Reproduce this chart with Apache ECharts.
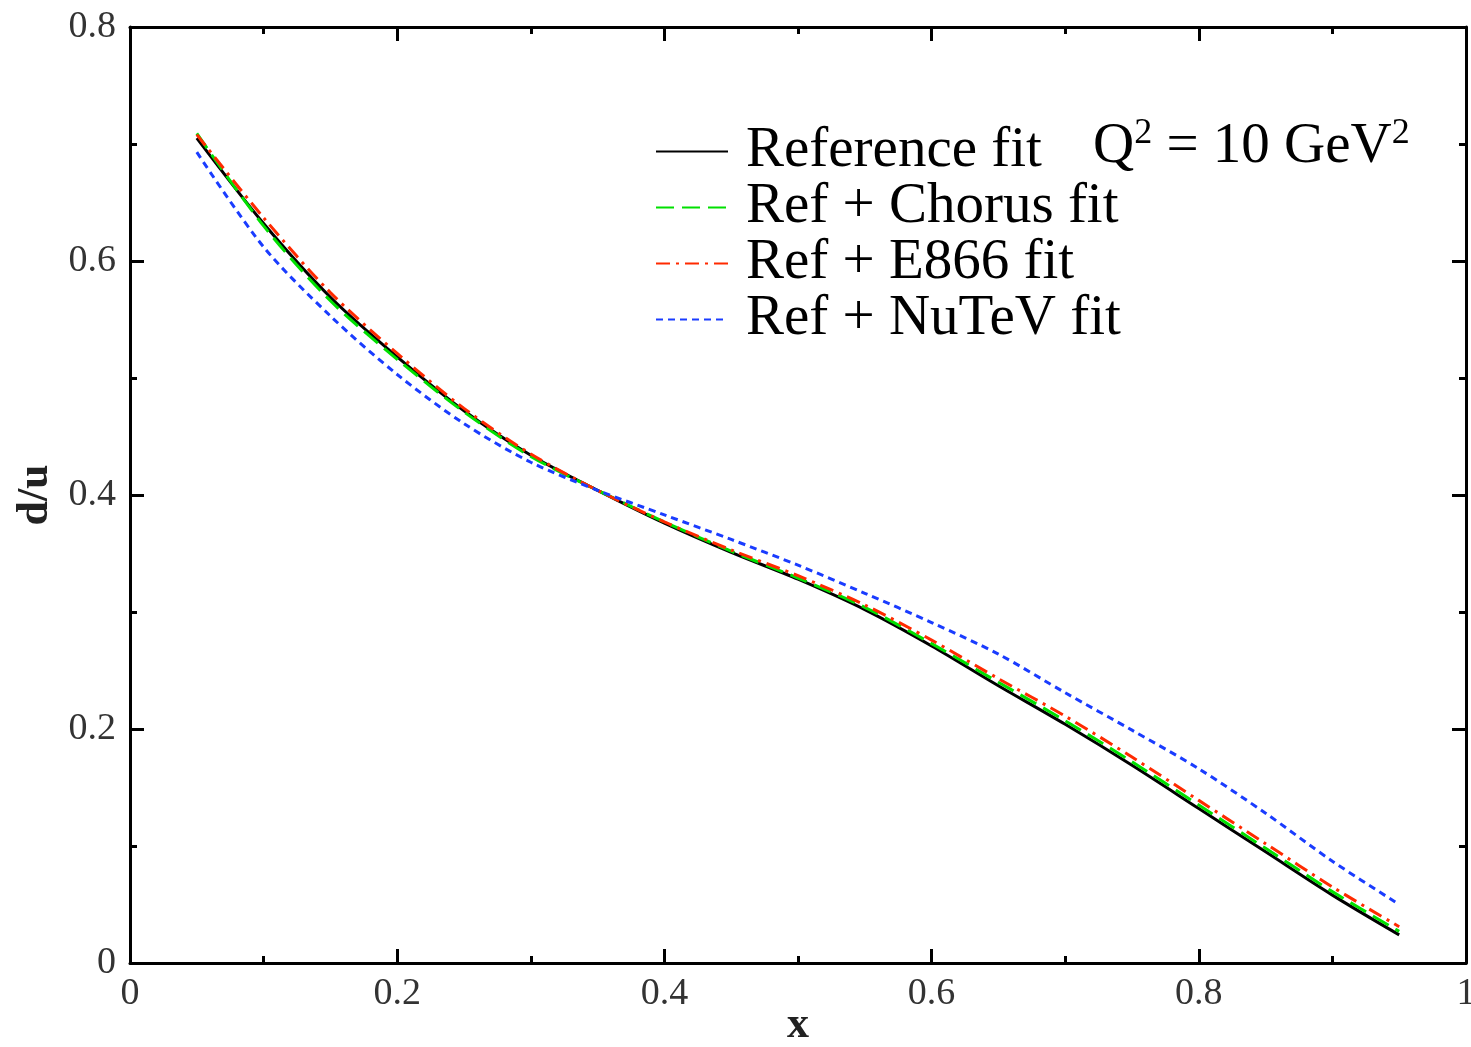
<!DOCTYPE html>
<html><head><meta charset="utf-8">
<script src="https://cdn.jsdelivr.net/npm/echarts@6/dist/echarts.min.js"></script>
<style>html,body{margin:0;padding:0;background:#fff;overflow:hidden}#c{width:1471px;height:1047px}</style>
</head><body><div id="c"></div>
<script>
const xs = [0.05,0.1,0.15,0.2,0.25,0.3,0.35,0.4,0.45,0.5,0.55,0.6,0.65,0.7,0.75,0.8,0.85,0.9,0.95];
const refFit = [0.705,0.632,0.569,0.518,0.472,0.434,0.404,0.376,0.351,0.328,0.302,0.271,0.237,0.204,0.169,0.132,0.095,0.058,0.024];
const chorusFit = [0.709,0.630,0.566,0.516,0.471,0.433,0.404,0.377,0.352,0.329,0.304,0.273,0.240,0.207,0.172,0.135,0.098,0.061,0.027];
const e866Fit = [0.708,0.637,0.573,0.521,0.474,0.435,0.404,0.377,0.353,0.331,0.306,0.276,0.243,0.211,0.176,0.139,0.102,0.065,0.031];
const nutevFit = [0.693,0.612,0.553,0.503,0.461,0.428,0.404,0.383,0.362,0.340,0.316,0.291,0.264,0.231,0.199,0.166,0.128,0.087,0.050];
const seriesNames = ['Reference fit','Ref + Chorus fit','Ref + E866 fit','Ref + NuTeV fit'];
const xTickLabels = {0:'0',0.2:'0.2',0.4:'0.4',0.6:'0.6',0.8:'0.8',1:'1'};
const yTickLabels = {0:'0',0.2:'0.2',0.4:'0.4',0.6:'0.6',0.8:'0.8'};

const serif = 'Liberation Serif, DejaVu Serif, serif';
const pair = arr => xs.map((x,i)=>[x,arr[i]]);
const chart = echarts.init(document.getElementById('c'));
const axisCommon = () => ({
  axisLine:{show:true,onZero:false,lineStyle:{color:'#000',width:3}},
  axisTick:{show:true,inside:true,length:14,lineStyle:{color:'#000',width:3}},
  minorTick:{show:true,splitNumber:2,length:7,lineStyle:{color:'#000',width:3}},
  splitLine:{show:false}
});
chart.setOption({
  animation:false,
  backgroundColor:'#fff',
  grid:{left:130,right:5,top:27,bottom:84,containLabel:false,outerBoundsMode:'none'},
  xAxis:[
    Object.assign({type:'value',min:0,max:1,interval:0.2,position:'bottom',
      name:'x',nameLocation:'middle',nameGap:41,nameMoveOverlap:false,
      nameTextStyle:{fontFamily:serif,fontSize:44,fontWeight:'bold',color:'#222'},
      axisLabel:{fontFamily:serif,fontSize:38,color:'#333',margin:12,formatter:v=>xTickLabels[Math.round(v*10)/10]??''}},axisCommon()),
    Object.assign({type:'value',min:0,max:1,interval:0.2,position:'top',axisLabel:{show:false}},axisCommon())
  ],
  yAxis:[
    Object.assign({type:'value',min:0,max:0.8,interval:0.2,position:'left',
      name:'d/u',nameLocation:'middle',nameGap:72,
      nameTextStyle:{fontFamily:serif,fontSize:44,fontWeight:'bold',color:'#222'},
      axisLabel:{fontFamily:serif,fontSize:38,color:'#333',margin:14,formatter:v=>yTickLabels[Math.round(v*10)/10]??''}},axisCommon()),
    Object.assign({type:'value',min:0,max:0.8,interval:0.2,position:'right',axisLabel:{show:false}},axisCommon())
  ],
  legend:{
    orient:'vertical',left:650,top:118,itemWidth:72,itemHeight:20,itemGap:-1,
    itemStyle:{opacity:0},
    textStyle:{fontFamily:serif,fontSize:57,color:'#000',padding:[0,0,0,13]},
    data:seriesNames
  },
  graphic:[{
    type:'text',left:1093,top:116,
    style:{text:'Q{sup|2} = 10 GeV{sup|2}',
      rich:{sup:{fontSize:36,verticalAlign:'top',padding:[0,0,26,0],fontFamily:serif,fill:'#000'}},
      font:'57px '+serif,fill:'#000'}
  }],
  series:[
    {name:seriesNames[0],type:'line',data:pair(refFit),smooth:0.3,symbol:'none',z:2,
      lineStyle:{color:'#000',width:3,type:'solid'},itemStyle:{color:'#000'}},
    {name:seriesNames[1],type:'line',data:pair(chorusFit),smooth:0.3,symbol:'none',z:3,
      lineStyle:{color:'#00e000',width:3,type:[18,8]},itemStyle:{color:'#00e000'}},
    {name:seriesNames[2],type:'line',data:pair(e866Fit),smooth:0.3,symbol:'none',z:4,
      lineStyle:{color:'#ff2a00',width:3,type:[14,6,3,6]},itemStyle:{color:'#ff2a00'}},
    {name:seriesNames[3],type:'line',data:pair(nutevFit),smooth:0.3,symbol:'none',z:5,
      lineStyle:{color:'#1a3cff',width:3,type:[7,5]},itemStyle:{color:'#1a3cff'}}
  ]
});
</script></body></html>
